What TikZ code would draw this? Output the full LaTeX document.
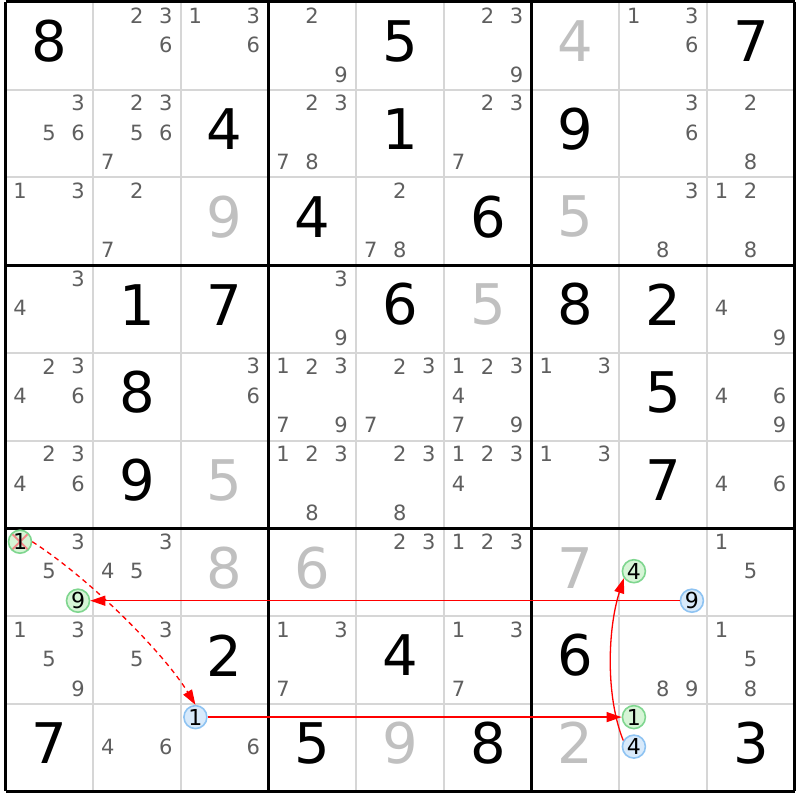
\documentclass[tikz,border=0pt]{standalone}
\usepackage{fontspec}
\setmainfont{DejaVu Sans}
\usetikzlibrary{arrows.meta}
\definecolor{candgray}{HTML}{5F5F5F}
\definecolor{solvedgray}{HTML}{C0C0C0}
\definecolor{gridgray}{HTML}{D6D6D6}
\definecolor{markgreen}{HTML}{7FD68F}
\definecolor{markgreenfill}{HTML}{D6F5D6}
\definecolor{markblue}{HTML}{8EC3F2}
\definecolor{markbluefill}{HTML}{D8EAFB}
\definecolor{xred}{HTML}{F28C8C}

\tikzset{
  given/.style={inner sep=0pt, font=\fontsize{56}{56}\selectfont, text=black},
  solved/.style={given, text=solvedgray},
  cand/.style={inner sep=0pt, font=\fontsize{21}{21}\selectfont, text=candgray},
  gmark/.style={circle, inner sep=0pt, minimum size=23pt, line width=1.6pt,
    draw=markgreen, fill=markgreenfill, text=black, font=\fontsize{22}{22}\selectfont},
  bmark/.style={gmark, draw=markblue, fill=markbluefill},
  xmark/.style={gmark, path picture={
    \draw[xred, line width=2pt] (path picture bounding box.north west) -- (path picture bounding box.south east)
      (path picture bounding box.north east) -- (path picture bounding box.south west);}},
  link/.style={red, line width=1.3pt, ->},
  weaklink/.style={link, dash pattern=on 5pt off 4pt}
}

\begin{document}
\begin{tikzpicture}[x=1pt, y=-1pt, >={Triangle[length=15pt,width=10pt]}]
\fill[white] (0,0) rectangle (800,800);
\useasboundingbox (0,0) rectangle (800,800);

% grid
\foreach \i in {1,...,8} {
  \draw[gridgray, line width=2pt] ({5.5+87.7*\i},2) -- ({5.5+87.7*\i},791.3);
  \draw[gridgray, line width=2pt] (5.5,{2+87.7*\i}) -- (794.8,{2+87.7*\i});
}
\foreach \i in {0,3,6,9} {
  \draw[black, line width=3pt] ({5.5+87.7*\i},2) -- ({5.5+87.7*\i},791.3);
  \draw[black, line width=3pt] (5.5,{2+87.7*\i}) -- (794.8,{2+87.7*\i});
}

% given digits
\foreach \r/\c/\d in {1/1/8, 1/5/5, 1/9/7, 2/3/4, 2/5/1, 2/7/9, 3/4/4, 3/6/6,
    4/2/1, 4/3/7, 4/5/6, 4/7/8, 4/8/2, 5/2/8, 5/8/5, 6/2/9, 6/8/7,
    8/3/2, 8/5/4, 8/7/6, 9/1/7, 9/4/5, 9/6/8, 9/9/3}
  \node[given] (g\r\c) at ({49.35+87.7*(\c-1)},{41.5+87.7*(\r-1)}) {\d};

% solved digits
\foreach \r/\c/\d in {1/7/4, 3/3/9, 3/7/5, 4/6/5, 6/3/5, 7/3/8, 7/4/6, 7/7/7, 9/5/9, 9/7/2}
  \node[solved] (s\r\c) at ({49.35+87.7*(\c-1)},{41.5+87.7*(\r-1)}) {\d};

% candidates
\foreach \r/\c/\ds in {1/2/{2,3,6}, 1/3/{1,3,6}, 1/4/{2,9}, 1/6/{2,3,9}, 1/8/{1,3,6},
    2/1/{3,5,6}, 2/2/{2,3,5,6,7}, 2/4/{2,3,7,8}, 2/6/{2,3,7}, 2/8/{3,6}, 2/9/{2,8},
    3/1/{1,3}, 3/2/{2,7}, 3/5/{2,7,8}, 3/8/{3,8}, 3/9/{1,2,8},
    4/1/{3,4}, 4/4/{3,9}, 4/9/{4,9},
    5/1/{2,3,4,6}, 5/3/{3,6}, 5/4/{1,2,3,7,9}, 5/5/{2,3,7}, 5/6/{1,2,3,4,7,9}, 5/7/{1,3}, 5/9/{4,6,9},
    6/1/{2,3,4,6}, 6/4/{1,2,3,8}, 6/5/{2,3,8}, 6/6/{1,2,3,4}, 6/7/{1,3}, 6/9/{4,6},
    7/1/{3,5}, 7/2/{3,4,5}, 7/5/{2,3}, 7/6/{1,2,3}, 7/9/{1,5},
    8/1/{1,3,5,9}, 8/2/{3,5}, 8/4/{1,3,7}, 8/6/{1,3,7}, 8/8/{8,9}, 8/9/{1,5,8},
    9/2/{4,6}, 9/3/{6}}
  \foreach \d in \ds
    \node[cand] (k\r\c\d) at ({20+87.7*(\c-1)+29*mod(\d-1,3)},{15.5+87.7*(\r-1)+29.5*floor((\d-1)/3)}) {\d};

% marked candidates
\foreach \r/\c/\d/\s in {7/1/1/xmark, 7/1/9/gmark, 7/8/4/gmark, 7/8/9/bmark,
    9/3/1/bmark, 9/8/1/gmark, 9/8/4/bmark}
  \node[\s] (m\r\c\d) at ({20+87.7*(\c-1)+29*mod(\d-1,3)},{15.5+87.7*(\r-1)+29.5*floor((\d-1)/3)}) {\d};

% chain
\draw[link] (m789) -- (m719);
\draw[weaklink] (m711.east) .. controls +(59,38) and +(-31,-51) .. (m931.north);
\draw[link] (m931) -- (m981);
\draw[link] (m984.150) .. controls +(-18,-45) and +(-16,50) .. (m784.215);
\end{tikzpicture}
\end{document}
